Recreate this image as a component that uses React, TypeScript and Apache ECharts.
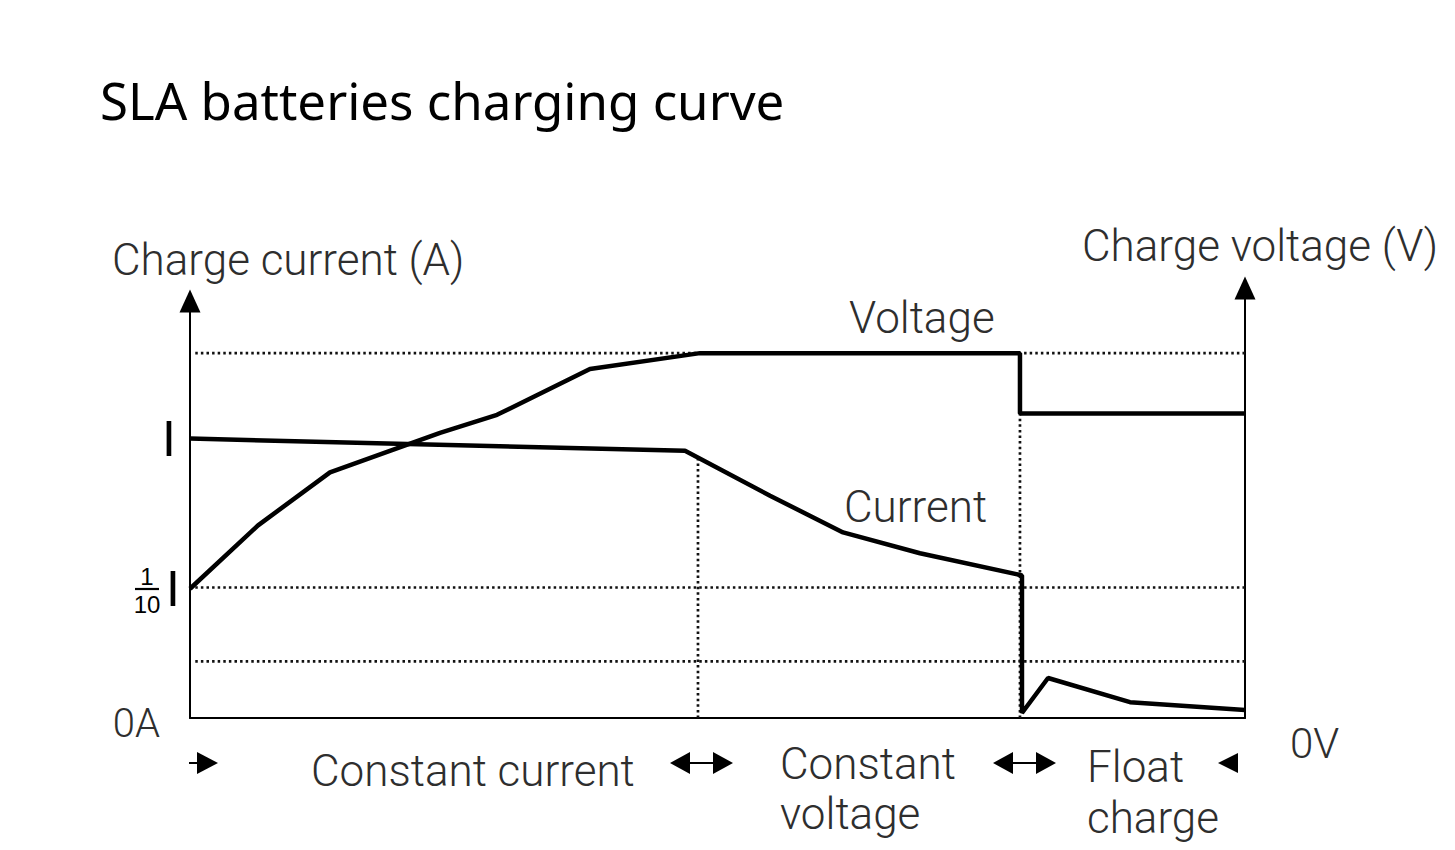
import React, { useEffect, useRef } from 'react';
import * as echarts from 'echarts';

// Charging curve (x: time in % of full chart width, y: % of left-axis height)
const voltageX = [0, 6.45, 13.27, 23.7, 29.1, 37.91, 48.34, 78.67, 78.67, 100];
const voltageY = [31, 46.2, 58.9, 68.4, 72.7, 83.7, 87.5, 87.5, 73.0, 73.0];
const currentX = [0, 46.92, 54.98, 61.9, 69.19, 78.86, 78.86, 81.33, 89.1, 100];
const currentY = [67.0, 64.1, 53.3, 44.5, 39.5, 34.2, 1.2, 9.6, 3.8, 1.9];

// Reference guide levels
const guideLevels = [87.5, 31.3, 13.6];
const guideStartX = 0.5;
const phaseBoundaries = [48.15, 78.67];
const phaseGuideTops = [62.5, 73.0];

// Tick labels
const currentTickValues = [0, 67];
const currentTickLabels = ['0A', 'I'];
const voltageTickLabel = '0V';

const TEXT = '#2e2e2e';
const LIGHT = { fontFamily: 'Roboto', fontWeight: 300, fontSize: 44, fill: TEXT };

function zip(xs: number[], ys: number[]) {
  return xs.map((x, i) => [x, ys[i]]);
}

function txt(text: string, x: number, y: number, extra: any = {}) {
  return {
    type: 'text',
    x,
    y,
    z: 10,
    style: { text, ...LIGHT, align: 'left', verticalAlign: 'middle', ...extra },
  };
}

function tri(points: number[][]) {
  return { type: 'polygon', z: 10, shape: { points }, style: { fill: '#000' } };
}

function seg(x1: number, y1: number, x2: number, y2: number, w = 2) {
  return { type: 'line', z: 10, shape: { x1, y1, x2, y2 }, style: { stroke: '#000', lineWidth: w } };
}

export default function App() {
  const ref = useRef<HTMLDivElement>(null);

  useEffect(() => {
    const chart = echarts.init(ref.current!, null, { renderer: 'svg' });
    const dotted = { color: '#111', width: 2.7, type: [2.5, 3.1] as any };
    const guideSeries: any[] = [];
    guideLevels.forEach((lv) => {
      guideSeries.push({
        type: 'line',
        data: [[guideStartX, lv], [100, lv]],
        symbol: 'none',
        silent: true,
        lineStyle: dotted,
        z: 1,
      });
    });
    phaseBoundaries.forEach((bx, i) => {
      guideSeries.push({
        type: 'line',
        data: [[bx, 0], [bx, phaseGuideTops[i]]],
        symbol: 'none',
        silent: true,
        lineStyle: dotted,
        z: 1,
      });
    });

    const axisLineStyle = { color: '#000', width: 2 };

    const option: any = {
      animation: false,
      backgroundColor: '#fff',
      title: {
        text: 'SLA batteries charging curve',
        left: 95,
        top: 69,
        textStyle: { fontFamily: 'Noto Sans', fontSize: 51, fontWeight: 'normal', color: '#000' },
      },
      grid: [
        { left: 190, right: 210, top: 301, bottom: 132 },
        { left: 190, right: 210, top: 288, bottom: 132 },
      ],
      xAxis: [
        {
          type: 'value',
          gridIndex: 0,
          min: 0,
          max: 100,
          axisLine: { show: true, onZero: false, lineStyle: axisLineStyle },
          axisTick: { show: false },
          axisLabel: { show: false },
          splitLine: { show: false },
        },
        { type: 'value', gridIndex: 1, min: 0, max: 100, show: false },
      ],
      yAxis: [
        {
          type: 'value',
          gridIndex: 0,
          min: 0,
          max: 100,
          axisLine: {
            show: true,
            onZero: false,
            symbol: ['none', 'triangle'],
            symbolSize: [21, 23],
            lineStyle: axisLineStyle,
          },
          axisTick: { show: false },
          splitLine: { show: false },
          axisLabel: {
            customValues: currentTickValues,
            margin: 14,
            formatter: (v: number) => {
              const i = currentTickValues.indexOf(v);
              const t = currentTickLabels[i] ?? '';
              return v === 0 ? `{a|${t}}` : `{i|${t}}`;
            },
            rich: {
              a: { fontFamily: 'Roboto', fontWeight: 300, fontSize: 40, color: TEXT, padding: [10, 16, 0, 0] },
              i: { fontFamily: 'Liberation Sans', fontSize: 50, color: '#000' },
            },
          },
        },
        {
          type: 'value',
          gridIndex: 1,
          position: 'right',
          min: 0,
          max: 100,
          axisLine: {
            show: true,
            onZero: false,
            symbol: ['none', 'triangle'],
            symbolSize: [21, 23],
            lineStyle: axisLineStyle,
          },
          axisTick: { show: false },
          splitLine: { show: false },
          axisLabel: {
            customValues: [0],
            margin: 45,
            formatter: () => `{v|${voltageTickLabel}}`,
            rich: {
              v: { fontFamily: 'Roboto', fontWeight: 300, fontSize: 42, color: TEXT, padding: [50, 0, 0, 0] },
            },
          },
        },
      ],
      series: [
        ...guideSeries,
        {
          name: 'Voltage',
          type: 'line',
          data: zip(voltageX, voltageY),
          symbol: 'none',
          lineStyle: { color: '#000', width: 4.5 },
          z: 3,
        },
        {
          name: 'Current',
          type: 'line',
          data: zip(currentX, currentY),
          symbol: 'none',
          lineStyle: { color: '#000', width: 4.5 },
          z: 3,
        },
      ],
      graphic: [
        txt('Charge current (A)', 112, 260),
        txt('Charge voltage (V)', 1082, 246),
        txt('Voltage', 849, 318),
        txt('Current', 844, 507),
        txt('Constant current', 311, 771),
        txt('Constant', 780, 764),
        txt('voltage', 780, 814),
        txt('Float', 1087, 767),
        txt('charge', 1087, 818),
        // 1/10 I label
        txt('1', 147, 576, {
          fontFamily: 'Liberation Sans',
          fontWeight: 'normal',
          fontSize: 24,
          lineHeight: 26,
          fill: '#000',
          align: 'center',
        }),
        txt('10', 147, 604, {
          fontFamily: 'Liberation Sans',
          fontWeight: 'normal',
          fontSize: 24,
          lineHeight: 26,
          fill: '#000',
          align: 'center',
        }),
        seg(135, 589, 159, 589, 2.2),
        txt('I', 180, 589, { fontFamily: 'Liberation Sans', fontWeight: 'normal', fontSize: 50, fill: '#000', align: 'right' }),
        // phase arrows
        seg(189, 763, 200, 763),
        tri([[197, 752], [218, 763], [197, 774]]),
        tri([[670, 763], [690, 752], [690, 774]]),
        seg(688, 763, 715, 763),
        tri([[713, 752], [733, 763], [713, 774]]),
        tri([[993, 763], [1013, 752], [1013, 774]]),
        seg(1011, 763, 1038, 763),
        tri([[1036, 752], [1056, 763], [1036, 774]]),
        tri([[1218, 763], [1238, 753], [1238, 773]]),
      ],
    };
    chart.setOption(option);
    return () => chart.dispose();
  }, []);

  return <div ref={ref} style={{ position: 'fixed', left: 0, top: 0, width: 1455, height: 850 }} />;
}
